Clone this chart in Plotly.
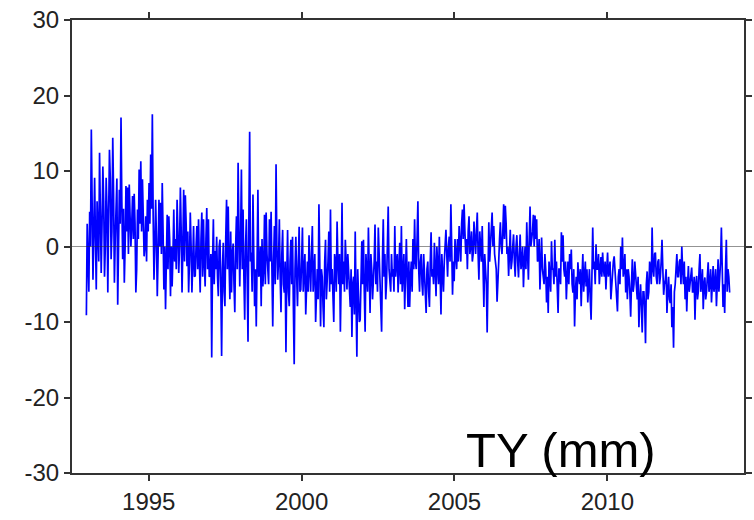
import numpy as np
import plotly.graph_objects as go

# TY displacement (mm) (1993.0 -> 2014.0).
# "ty_*" are the main samples, "mid_*" the samples read half-way between them.
ty_1993_1996 = [-9.1, -2, 4.6, 15.5, -4.4, 9.1, -5.7, 3, 12.4, -3.5,
                10.6, -4, 9.1, -6.1, 12.8, -1.7, 14.4, -4.8, 6, -7.7,
                7.5, 17.1, -1.7, -4.8, 8, 7.8, 8.2, 0, 6.7, 7,
                -6.1, 4.9, 10.2, 11.3, 8.9, -1.3, 4, 6.2, 8.4, 12.2,
                17.5, -4.4, 6.2, -6.6, 6.2, 5.8, 8.4, -5.7, -8.3, 4.2,
                4, -6.6, -5.3, 4.9, 1, 6.2, -3.5, 7.8, -6.1, 7.5,
                6.8, -2.6, -6.1, 4.5]
mid_1993_1996 = [3, -6, 0, 6, 2, 1, 6, -2, 5, 3,
                 6, 0, 5, 4, 9, 2, 7, 1, 9, -2,
                 3, 6, 5, 0, 2, -1, 4, 3, 1, 3,
                 -3, 1, 3, 2, 4, 0, -2, 2, 3, 5,
                 4, 0, 1, -1, 0, -1, 2, 0, -2, -3,
                 1, 0, -1, -2, -3, 2, 0, 2, 0, -2,
                 3, 2, -2, 0]
ty_1996_2000 = [-6.1, 2.7, -3.9, 2.7, 3.6, -6.1, 4.5, 3.6, -5.3, 5.1,
                3.6, -3.9, -14.7, 3.6, -0.6, 1.3, -6.6, 0.9, -14.5, 0.5,
                -7.9, 6.2, 5.3, -7, -6.1, 0.4, -8.7, 4, 11.1, -5.3,
                10.2, 4.9, -9.7, 3.6, -12.6, 15.2, -0.8, 6.9, -7.9, -10.6,
                7.5, -3.5, -7.9, -5.3, 4.2, 4.5, -3, 3.6, 4.6, -10.6,
                2.7, 10.9, -4.4, 3.6, -8.7, 2.2, -6.1, -14, 2.2, -7.9,
                0.9, 1.3, -15.6, 1.3, -7.9, 2.6]
mid_1996_2000 = [-2, -4, 0, -3, -2, 1, -4, -2, 1, -3,
                 -4, -1, -2, -5, -3, -4, 0, -5, -3, -6,
                 1, -3, -2, 2, -1, -5, 0, -3, 2, 1,
                 -3, -4, 0, -4, 3, -2, -6, -1, -3, -2,
                 -4, 0, 1, -3, -5, -1, -5, -2, -3, -2,
                 -5, 0, -2, -4, -1, -5, -2, -4, -6, -2,
                 -5, -8, -3, -4, -2, -6]
ty_2000_2003 = [-5.7, 2.5, -3, -9, -2, 1.5, -6, 2.7, -4, -10,
                -3, 5.6, -10.6, -4, -10.7, 0.9, -5, 2, 4.9, -3,
                -10, -2, 3.3, -5, -11.3, 5.8, -2, 0.9, -5.7, -3,
                -8, -12, -4, 2, -14.6, -6, -9.7, 0.7, 0.9, -11.3,
                -4, 2.5, -8.8, -3, -5, 2.9, -2, 2.5, -4.4, -11.3,
                3.6, -1, -4.7, 5.3, -5, -1, -3, 2.7, -2, -6.1,
                0.5, 2.7, -3, -8.3, 1, -8]
mid_2000_2003 = [-2, -6, -1, -4, -6, -3, -1, -6, -1, -5,
                 -7, -2, -3, -8, -2, -7, -2, -6, -5, -7,
                 -1, -6, -2, -1, -4, -5, -6, -2, -1, -6,
                 -3, -5, -9, -7, -3, -10, -3, -5, -6, -1,
                 -6, -3, -1, -7, -2, -5, -6, -1, -6, -2,
                 -4, -7, 0, -3, -6, -4, -6, -4, -1, -3,
                 -5, -6, -1, -3, -4, -2]
ty_2003_2007 = [-8, -2, 1, 3.6, -3, 6, -6, -1, -6.5, -3,
                -8.8, -2, -8, 1.9, -3, 0.5, -6.6, -2, 1.3, -9,
                -3, -2, 2.2, -4, 1.3, 5.6, -6.4, -4.6, -1, 1,
                2.7, -2, 4.9, 5.6, -1, -3, 4, 0, -2, 3.3,
                -1, 4.5, -4.4, 0, 2.7, -8, -3, -11.4, 3.2, 0,
                4.5, 2.7, -1.7, -7.3, -2, 3.2, -1, 5.6, 5.4, -1,
                -3.9, 2.2, -2, 1.6, -4, 1.5]
mid_2003_2007 = [-4, -6, -3, -2, 1, -3, -2, -5, -1, -6,
                 -3, -6, -2, -4, -5, -3, 0, -5, -3, -1,
                 -6, 0, -1, 0, -2, 0, -2, 1, -3, -2,
                 0, 3, 1, 2, 1, 2, -1, 2, -1, 1,
                 2, -1, 2, -2, -3, -1, -5, -4, -2, 2,
                 0, -1, -3, -3, 1, 0, 2, 1, 3, 0,
                 -1, -3, 0, -2, 0, -2]
ty_2007_2010 = [-4.1, 1.6, -2, -5.4, 0, 3.2, -4.4, 5.3, 1, 4.2,
                4.1, 3.6, -1.7, -5.7, 1.2, -3.9, -1, -7.4, -8.8, -4,
                0.7, -3, 0.9, -2, -8.8, -3, 1.9, 1.5, -4, -7,
                -2, -1, -0.4, -6.1, -10.6, -4, -2.1, -5, -7.9, -1,
                -4, -5.3, -7.4, -3, -9.7, 2.5, -2, 0.3, -3, -5,
                -1.4, -0.8, -4, -5.7, -0.8, -3, -7, -4, -1.3, -5,
                -8.6, -3, 0, 1.2, -3, -6.1]
mid_2007_2010 = [-1, -3, 0, -2, -3, -1, 1, 0, 2, 0,
                 1, -2, 1, -2, -3, -5, -3, -4, -2, -6,
                 -3, -5, -4, -6, -3, -5, -2, -3, -2, -4,
                 -5, -3, -5, -3, -6, -7, -4, -3, -4, -6,
                 -2, -3, -5, -7, -4, -3, -5, -3, -1, -3,
                 -4, -3, -2, -3, -4, -2, -5, -2, -3, -6,
                 -4, -5, -3, -4, -1, -3]
ty_2010_2014 = [-7, -4, -9.3, -1.7, -5, -3.4, -7, -10.7, -5, -11.4,
                -6, -12.8, -3.3, -6, -3, 2.5, -4, -0.8, -5, -1.7,
                -4, 0.9, -6.4, -4.4, -8.8, -4, -7.5, -10.7, -13.4, -5,
                -1, -4, -1.7, 0, -5, -7, -8.6, -2.6, -5, -2.8,
                -6, -9.7, -3.9, -6, -1, -5, -8.3, -4.1, -6, -2.1,
                -5, -7.4, -2.6, -5, -7.9, -1.7, -4, 2.5, -8, -8.8,
                0.9, -3, -6.1]
mid_2010_2014 = [-3, -6, -5, -6, -2, -5, -4, -7, -8, -6,
                 -8, -5, -7, -2, -5, -3, -1, -4, -2, -5,
                 -2, -3, -5, -3, -6, -7, -5, -8, -6, -3,
                 -4, -2, -5, -3, -2, -4, -5, -6, -4, -6,
                 -4, -5, -7, -3, -6, -3, -5, -7, -4, -6,
                 -3, -5, -6, -3, -5, -6, -2, -4, -5, -3,
                 -6, -4, -5]

main = (ty_1993_1996 + ty_1996_2000 + ty_2000_2003 +
        ty_2003_2007 + ty_2007_2010 + ty_2010_2014)
mids = (mid_1993_1996 + mid_1996_2000 + mid_2000_2003 +
        mid_2003_2007 + mid_2007_2010 + mid_2010_2014)
n = min(len(main), len(mids))
ty = []
for a, b in zip(main[:n], mids[:n]):
    ty.extend([a, b])
ty = ty[:-1]

t_start, t_end = 1992.96, 2014.0
years = np.linspace(t_start, t_end, len(ty))

x_ticks = [1995, 2000, 2005, 2010]
y_ticks = [-30, -20, -10, 0, 10, 20, 30]
y_tick_labels = ["-30", "-20", "-10", "0", "10", "20", "30"]

fig = go.Figure()
fig.add_trace(go.Scatter(x=years, y=ty, mode="lines",
                         line=dict(color="#0000ff", width=1.7),
                         showlegend=False, hoverinfo="skip"))

fig.add_shape(type="line", xref="paper", x0=0, x1=1, yref="y", y0=0, y1=0,
              line=dict(color="rgba(40,40,40,0.5)", width=1), layer="above")

fig.add_annotation(text="TY (mm)", xref="paper", yref="paper",
                   x=0.728, y=0.05, xanchor="center", yanchor="middle",
                   showarrow=False,
                   font=dict(family="Liberation Sans, Arial, sans-serif",
                             size=49, color="black"))

axis_common = dict(showline=True, mirror="ticks", linecolor="#333333",
                   linewidth=2, ticks="outside", ticklen=6, tickwidth=1.5,
                   tickcolor="#333333", showgrid=False, zeroline=False,
                   tickfont=dict(family="Liberation Sans, Arial, sans-serif",
                                 size=24, color="#222222"))

fig.update_layout(
    width=754, height=520,
    margin=dict(l=72, r=2, t=20, b=47),
    plot_bgcolor="white", paper_bgcolor="white",
    xaxis=dict(range=[1992.49, 2014.47], tickvals=x_ticks, **axis_common),
    yaxis=dict(range=[-30, 30], tickvals=y_ticks, ticktext=y_tick_labels,
               **axis_common),
)

fig.write_html("out.html")
